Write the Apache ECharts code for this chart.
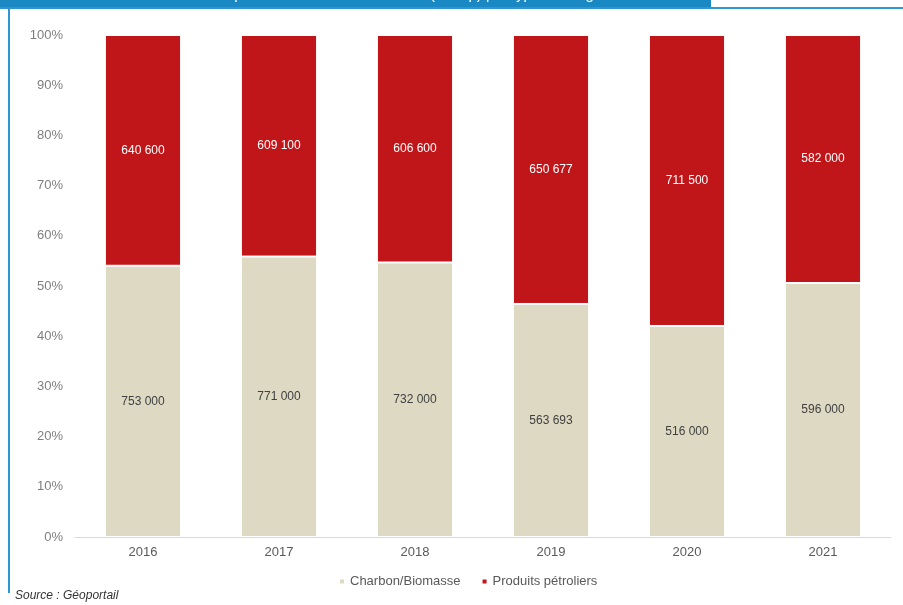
<!DOCTYPE html>
<html>
<head>
<meta charset="utf-8">
<script src="https://cdn.jsdelivr.net/npm/echarts@6/dist/echarts.min.js"></script>
<style>
  html, body { margin: 0; padding: 0; background: #fff; }
  #main { width: 903px; height: 605px; }
</style>
</head>
<body>
<div id="main"></div>
<script>
// données (tonnes)
const years = ["2016", "2017", "2018", "2019", "2020", "2021"];
const charbon = [753000, 771000, 732000, 563693, 516000, 596000];
const petrole = [640600, 609100, 606600, 650677, 711500, 582000];
const seriesNames = ["Charbon/Biomasse", "Produits pétroliers"];
const yTicks = [0, 10, 20, 30, 40, 50, 60, 70, 80, 90, 100];

const fmt = (v) => String(v).replace(/\B(?=(\d{3})+(?!\d))/g, " ");
const share = (arr) => arr.map((v, i) => {
  const tot = charbon[i] + petrole[i];
  return { value: (v / tot) * 100, raw: v };
});

const chartDom = document.getElementById("main");
const chart = echarts.init(chartDom, null, { renderer: "canvas" });

const labelStyle = {
  show: true,
  position: "inside",
  color: "#404040",
  fontSize: 12,
  fontFamily: "Liberation Sans",
  formatter: (p) => fmt(p.data.raw),
};

const option = {
  animation: false,
  textStyle: { fontFamily: "Liberation Sans" },
  grid: { left: 75, right: 12, top: 35, bottom: 68 },
  legend: {
    data: seriesNames,
    left: 333,
    top: 570,
    icon: "rect",
    itemWidth: 6,
    itemHeight: 6,
    itemGap: 20,
    textStyle: { color: "#595959", fontSize: 13, fontFamily: "Liberation Sans" },
  },
  xAxis: {
    type: "category",
    data: years,
    axisLine: { lineStyle: { color: "#d9d9d9" } },
    axisTick: { show: false },
    axisLabel: { color: "#595959", fontSize: 13, margin: 9 },
  },
  yAxis: {
    type: "value",
    min: 0,
    max: 100,
    interval: 10,
    splitLine: { show: false },
    axisLine: { show: false },
    axisTick: { show: false },
    axisLabel: {
      color: "#7f7f7f",
      fontSize: 13,
      margin: 12,
      formatter: (v) => (yTicks.includes(v) ? v + "%" : ""),
    },
  },
  series: [
    {
      name: seriesNames[0],
      type: "bar",
      stack: "tot",
      barWidth: "56%",
      data: share(charbon),
      itemStyle: { color: "#ddd9c3", borderColor: "#fff", borderWidth: 1 },
      label: labelStyle,
    },
    {
      name: seriesNames[1],
      type: "bar",
      stack: "tot",
      barWidth: "56%",
      data: share(petrole),
      itemStyle: { color: "#c0161a", borderColor: "#fff", borderWidth: 1 },
      label: Object.assign({}, labelStyle, { color: "#ffffff" }),
    },
  ],
  graphic: [
    { type: "rect", left: 0, top: 0, shape: { width: 711, height: 8 }, style: { fill: "#1a89c3" }, silent: true },
    { type: "rect", left: 0, top: 7, shape: { width: 903, height: 2 }, style: { fill: "#2e96d0" }, silent: true },
    { type: "rect", left: 8, top: 8, shape: { width: 2, height: 585 }, style: { fill: "#2e96d0" }, silent: true },
    {
      type: "text",
      x: 215,
      y: -13,
      style: {
        text: "Répartition de la consommation (en tep) par type d'énergie",
        fill: "#ffffff",
        font: "15px 'Liberation Sans'",
      },
      silent: true,
    },
    {
      type: "text",
      left: 15,
      top: 590,
      style: {
        text: "Source : Géoportail",
        fill: "#333333",
        font: "italic 12px 'Liberation Sans'",
      },
      silent: true,
    },
  ],
};

chart.setOption(option);
</script>
</body>
</html>
